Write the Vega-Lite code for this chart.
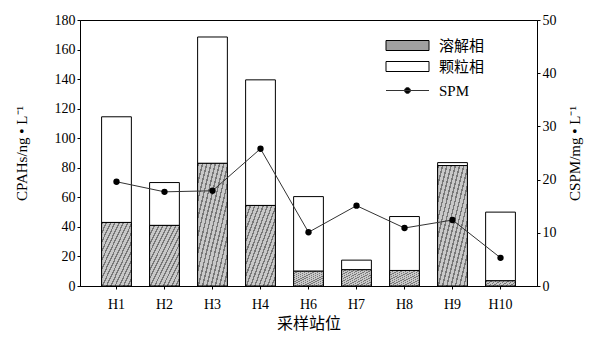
{
  "$schema": "https://vega.github.io/schema/vega-lite/v6.json",
  "width": 457,
  "height": 266,
  "autosize": "none",
  "padding": {"left": 80, "top": 20, "right": 63, "bottom": 52},
  "background": "white",
  "config": {
    "font": "Liberation Serif, Noto Sans CJK SC",
    "view": {"stroke": "black", "strokeWidth": 1},
    "axis": {
      "domainColor": "black",
      "tickColor": "black",
      "labelColor": "black",
      "titleColor": "black",
      "labelFont": "Liberation Serif, Noto Sans CJK SC",
      "titleFont": "Liberation Serif, Noto Sans CJK SC",
      "labelFontSize": 14,
      "titleFontSize": 15,
      "titleFontWeight": "normal",
      "tickSize": 3,
      "grid": false
    },
    "legend": {
      "labelFont": "Liberation Serif, Noto Sans CJK SC",
      "labelFontSize": 15,
      "labelColor": "black"
    }
  },
  "datasets": {
    "bars": [
      {"station": "H1", "phase": "溶解相", "value": 43},
      {"station": "H1", "phase": "颗粒相", "value": 71.5},
      {"station": "H2", "phase": "溶解相", "value": 41},
      {"station": "H2", "phase": "颗粒相", "value": 29},
      {"station": "H3", "phase": "溶解相", "value": 83},
      {"station": "H3", "phase": "颗粒相", "value": 85.5},
      {"station": "H4", "phase": "溶解相", "value": 54.5},
      {"station": "H4", "phase": "颗粒相", "value": 85},
      {"station": "H6", "phase": "溶解相", "value": 10},
      {"station": "H6", "phase": "颗粒相", "value": 50.5},
      {"station": "H7", "phase": "溶解相", "value": 11},
      {"station": "H7", "phase": "颗粒相", "value": 6.5},
      {"station": "H8", "phase": "溶解相", "value": 10.5},
      {"station": "H8", "phase": "颗粒相", "value": 36.5},
      {"station": "H9", "phase": "溶解相", "value": 81.5},
      {"station": "H9", "phase": "颗粒相", "value": 2},
      {"station": "H10", "phase": "溶解相", "value": 3.5},
      {"station": "H10", "phase": "颗粒相", "value": 46.5}
    ],
    "spm": [
      {"station": "H1", "series": "SPM", "spm": 19.6},
      {"station": "H2", "series": "SPM", "spm": 17.7},
      {"station": "H3", "series": "SPM", "spm": 17.9},
      {"station": "H4", "series": "SPM", "spm": 25.8},
      {"station": "H6", "series": "SPM", "spm": 10.1},
      {"station": "H7", "series": "SPM", "spm": 15.1},
      {"station": "H8", "series": "SPM", "spm": 10.9},
      {"station": "H9", "series": "SPM", "spm": 12.4},
      {"station": "H10", "series": "SPM", "spm": 5.3}
    ]
  },
  "encoding": {
    "x": {
      "field": "station",
      "type": "nominal",
      "sort": ["H1", "H2", "H3", "H4", "H6", "H7", "H8", "H9", "H10"],
      "scale": {"paddingInner": 0.38, "paddingOuter": 0.45},
      "axis": {"labelAngle": 0, "title": "采样站位", "labelPadding": 8, "titlePadding": 4, "titleFontSize": 16}
    }
  },
  "layer": [
    {
      "data": {"name": "bars"},
      "encoding": {
        "y": {
          "field": "value",
          "type": "quantitative",
          "stack": "zero",
          "scale": {"domain": [0, 180], "nice": false},
          "axis": {"values": [0, 20, 40, 60, 80, 100, 120, 140, 160, 180], "title": "CPAHs/ng • L⁻¹", "titlePadding": 25}
        }
      },
      "layer": [
        {
          "mark": {"type": "bar", "stroke": "black", "strokeWidth": 1},
          "encoding": {
            "order": {"field": "phase", "sort": "ascending"},
            "fill": {
              "field": "phase",
              "type": "nominal",
              "scale": {"domain": ["溶解相", "颗粒相"], "range": ["#a0a0a0", "white"]},
              "legend": {
                "title": null,
                "orient": "none",
                "legendX": 320,
                "legendY": 18,
                "symbolType": "M-4.3,-1H4.3V1H-4.3Z",
                "symbolSize": 100,
                "symbolStrokeColor": "black",
                "symbolStrokeWidth": 1,
                "rowPadding": 5,
                "labelOffset": 24,
                "encode": {
                  "symbols": {
                    "update": {
                      "stroke": {"value": "black"},
                      "strokeWidth": {"value": 1},
                      "opacity": {"value": 1},
                      "fill": [
                        {
                          "test": "datum.value === '溶解相'",
                          "value": {
                            "gradient": "linear", "x1": 0, "y1": 0, "x2": 1, "y2": 1,
                            "stops": [
                              {"offset": 0, "color": "#707070"}, {"offset": 0.06, "color": "#707070"}, {"offset": 0.06, "color": "#c4c4c4"},
                              {"offset": 0.1667, "color": "#c4c4c4"}, {"offset": 0.1667, "color": "#707070"}, {"offset": 0.2267, "color": "#707070"}, {"offset": 0.2267, "color": "#c4c4c4"},
                              {"offset": 0.3333, "color": "#c4c4c4"}, {"offset": 0.3333, "color": "#707070"}, {"offset": 0.3933, "color": "#707070"}, {"offset": 0.3933, "color": "#c4c4c4"},
                              {"offset": 0.5, "color": "#c4c4c4"}, {"offset": 0.5, "color": "#707070"}, {"offset": 0.56, "color": "#707070"}, {"offset": 0.56, "color": "#c4c4c4"},
                              {"offset": 0.6667, "color": "#c4c4c4"}, {"offset": 0.6667, "color": "#707070"}, {"offset": 0.7267, "color": "#707070"}, {"offset": 0.7267, "color": "#c4c4c4"},
                              {"offset": 0.8333, "color": "#c4c4c4"}, {"offset": 0.8333, "color": "#707070"}, {"offset": 0.8933, "color": "#707070"}, {"offset": 0.8933, "color": "#c4c4c4"},
                              {"offset": 1, "color": "#c4c4c4"}
                            ]
                          }
                        },
                        {"value": "white"}
                      ]
                    }
                  }
                }
              }
            }
          }
        },
        {
          "transform": [{"filter": "datum.phase === '溶解相'"}],
          "mark": {
            "type": "bar",
            "stroke": "black",
            "strokeWidth": 1,
            "fill": {
              "gradient": "linear", "x1": 0, "y1": 0, "x2": 1, "y2": 1,
              "stops": [
                {"offset": 0, "color": "#777777"}, {"offset": 0.024, "color": "#777777"}, {"offset": 0.024, "color": "#c8c8c8"},
                {"offset": 0.0714, "color": "#c8c8c8"}, {"offset": 0.0714, "color": "#777777"}, {"offset": 0.0954, "color": "#777777"}, {"offset": 0.0954, "color": "#c8c8c8"},
                {"offset": 0.1429, "color": "#c8c8c8"}, {"offset": 0.1429, "color": "#777777"}, {"offset": 0.1669, "color": "#777777"}, {"offset": 0.1669, "color": "#c8c8c8"},
                {"offset": 0.2143, "color": "#c8c8c8"}, {"offset": 0.2143, "color": "#777777"}, {"offset": 0.2383, "color": "#777777"}, {"offset": 0.2383, "color": "#c8c8c8"},
                {"offset": 0.2857, "color": "#c8c8c8"}, {"offset": 0.2857, "color": "#777777"}, {"offset": 0.3097, "color": "#777777"}, {"offset": 0.3097, "color": "#c8c8c8"},
                {"offset": 0.3571, "color": "#c8c8c8"}, {"offset": 0.3571, "color": "#777777"}, {"offset": 0.3811, "color": "#777777"}, {"offset": 0.3811, "color": "#c8c8c8"},
                {"offset": 0.4286, "color": "#c8c8c8"}, {"offset": 0.4286, "color": "#777777"}, {"offset": 0.4526, "color": "#777777"}, {"offset": 0.4526, "color": "#c8c8c8"},
                {"offset": 0.5, "color": "#c8c8c8"}, {"offset": 0.5, "color": "#777777"}, {"offset": 0.524, "color": "#777777"}, {"offset": 0.524, "color": "#c8c8c8"},
                {"offset": 0.5714, "color": "#c8c8c8"}, {"offset": 0.5714, "color": "#777777"}, {"offset": 0.5954, "color": "#777777"}, {"offset": 0.5954, "color": "#c8c8c8"},
                {"offset": 0.6429, "color": "#c8c8c8"}, {"offset": 0.6429, "color": "#777777"}, {"offset": 0.6669, "color": "#777777"}, {"offset": 0.6669, "color": "#c8c8c8"},
                {"offset": 0.7143, "color": "#c8c8c8"}, {"offset": 0.7143, "color": "#777777"}, {"offset": 0.7383, "color": "#777777"}, {"offset": 0.7383, "color": "#c8c8c8"},
                {"offset": 0.7857, "color": "#c8c8c8"}, {"offset": 0.7857, "color": "#777777"}, {"offset": 0.8097, "color": "#777777"}, {"offset": 0.8097, "color": "#c8c8c8"},
                {"offset": 0.8571, "color": "#c8c8c8"}, {"offset": 0.8571, "color": "#777777"}, {"offset": 0.8811, "color": "#777777"}, {"offset": 0.8811, "color": "#c8c8c8"},
                {"offset": 0.9286, "color": "#c8c8c8"}, {"offset": 0.9286, "color": "#777777"}, {"offset": 0.9526, "color": "#777777"}, {"offset": 0.9526, "color": "#c8c8c8"},
                {"offset": 1, "color": "#c8c8c8"}
              ]
            }
          }
        }
      ]
    },
    {
      "data": {"name": "spm"},
      "encoding": {
        "y": {
          "field": "spm",
          "type": "quantitative",
          "scale": {"domain": [0, 50], "nice": false},
          "axis": {"orient": "right", "values": [0, 10, 20, 30, 40, 50], "title": "CSPM/mg • L⁻¹", "titleAngle": 270, "titlePadding": 26}
        }
      },
      "layer": [
        {
          "mark": {"type": "line", "strokeWidth": 1},
          "encoding": {
            "stroke": {
              "field": "series",
              "type": "nominal",
              "scale": {"domain": ["SPM"], "range": ["#333333"]},
              "legend": {
                "title": null,
                "orient": "none",
                "legendX": 320,
                "legendY": 63,
                "symbolType": "M-4.3,0H4.3M-0.6,0A0.6,0.6,0,1,1,0.6,0A0.6,0.6,0,1,1,-0.6,0Z",
                "symbolSize": 100,
                "symbolStrokeWidth": 1,
                "labelOffset": 24,
                "encode": {"symbols": {"update": {"fill": {"value": "black"}, "stroke": {"value": "black"}}}}
              }
            }
          }
        },
        {
          "mark": {"type": "point", "filled": true, "color": "black", "size": 40, "opacity": 1}
        }
      ]
    }
  ],
  "resolve": {"scale": {"y": "independent"}}
}
